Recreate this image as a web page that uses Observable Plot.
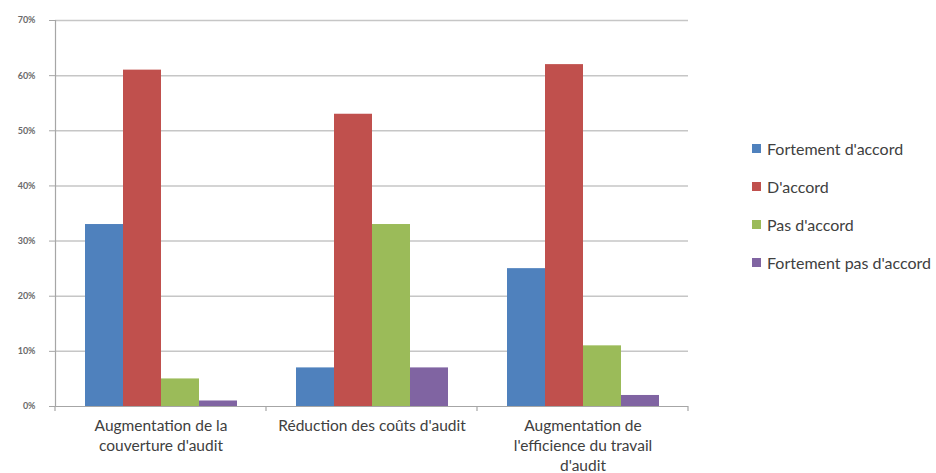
<!DOCTYPE html>
<html>
<head>
<meta charset="utf-8">
<script src="https://cdn.jsdelivr.net/npm/d3@7"></script>
<script src="https://cdn.jsdelivr.net/npm/@observablehq/plot@0.6"></script>
<style>
  html, body { margin: 0; padding: 0; background: #fff; }
  #wrap { position: relative; width: 936px; height: 473px; font-family: Lato, "Open Sans", sans-serif; }
  #legend { position: absolute; left: 752px; top: 129px; }
  .item { display: flex; align-items: center; height: 38px; font-size: 16px; color: #404040; white-space: nowrap; }
  .sw { width: 9px; height: 9px; margin-right: 6px; flex: none; }
</style>
</head>
<body>
<div id="wrap"></div>
<script>
const categories = [
  "Augmentation de la couverture d'audit",
  "Réduction des coûts d'audit",
  "Augmentation de l'efficience du travail d'audit"
];
const categoryLabels = [
  "Augmentation de la\ncouverture d'audit",
  "Réduction des coûts d'audit",
  "Augmentation de\nl'efficience du travail\nd'audit"
];
const series = ["Fortement d'accord", "D'accord", "Pas d'accord", "Fortement pas d'accord"];
const seriesColors = ["#4F81BD", "#C0504D", "#9BBB59", "#8064A2"];
const fortementDaccord = [0.33, 0.07, 0.25];
const dAccord = [0.61, 0.53, 0.62];
const pasDaccord = [0.05, 0.33, 0.11];
const fortementPasDaccord = [0.01, 0.07, 0.02];
const yTicks = [0, 0.1, 0.2, 0.3, 0.4, 0.5, 0.6, 0.7];

const valuesBySeries = [fortementDaccord, dAccord, pasDaccord, fortementPasDaccord];
const data = [];
categories.forEach((c, ci) => {
  series.forEach((s, si) => {
    data.push({ category: c, series: s, value: valuesBySeries[si][ci] });
  });
});
const labelOf = new Map(categories.map((c, i) => [c, categoryLabels[i]]));

const plot = Plot.plot({
  width: 936,
  height: 473,
  marginLeft: 54,
  marginRight: 247,
  marginTop: 20,
  marginBottom: 67,
  style: { fontFamily: "Lato, 'Open Sans', sans-serif", background: "#fff" },
  fx: { domain: categories, padding: 0, label: null },
  x: { domain: series, paddingInner: 0, paddingOuter: 0.75, axis: null },
  y: { domain: [0, 0.7], label: null },
  color: { domain: series, range: seriesColors },
  marks: [
    Plot.gridY(yTicks.filter(d => d > 0), { stroke: "#c6c6c6", strokeOpacity: 1, strokeWidth: 1.5 }),
    Plot.barY(data, { fx: "category", x: "series", y: "value", fill: "series" }),
    Plot.ruleY([0], { stroke: "#a6a6a6", strokeWidth: 1.2 }),
    Plot.frame({ anchor: "left", facet: "super", stroke: "#a6a6a6", strokeWidth: 1.2 }),
    Plot.axisY({
      ticks: yTicks,
      tickFormat: d3.format(".0%"),
      tickSize: 6,
      tickPadding: 14,
      stroke: "#a6a6a6",
      fontSize: 9,
      fontWeight: "bold",
      fill: "#6a6a6a",
      label: null
    }),
    Plot.axisFx({
      anchor: "bottom",
      tickFormat: d => labelOf.get(d),
      tickSize: 0,
      tickPadding: 10,
      fontSize: 15.5,
      lineHeight: 1.3,
      fill: "#404040",
      label: null
    })
  ]
});

const wrap = document.getElementById("wrap");
wrap.appendChild(plot);

// category boundary ticks below the x axis, positioned with Plot's scales
const fx = plot.scale("fx");
const y = plot.scale("y");
const bw = fx.bandwidth;
const y0 = y.apply(0);
const bounds = [fx.apply(categories[0])].concat(categories.map(c => fx.apply(c) + bw));
const svg = d3.select(plot);
svg.append("g")
  .attr("stroke", "#a6a6a6")
  .attr("stroke-width", 1.2)
  .selectAll("line")
  .data(bounds)
  .join("line")
  .attr("x1", d => d).attr("x2", d => d)
  .attr("y1", y0).attr("y2", y0 + 5);

// legend
const legend = document.createElement("div");
legend.id = "legend";
series.forEach((s, i) => {
  const item = document.createElement("div");
  item.className = "item";
  const sw = document.createElement("span");
  sw.className = "sw";
  sw.style.background = seriesColors[i];
  const t = document.createElement("span");
  t.textContent = s;
  item.appendChild(sw);
  item.appendChild(t);
  legend.appendChild(item);
});
wrap.appendChild(legend);
</script>
</body>
</html>
